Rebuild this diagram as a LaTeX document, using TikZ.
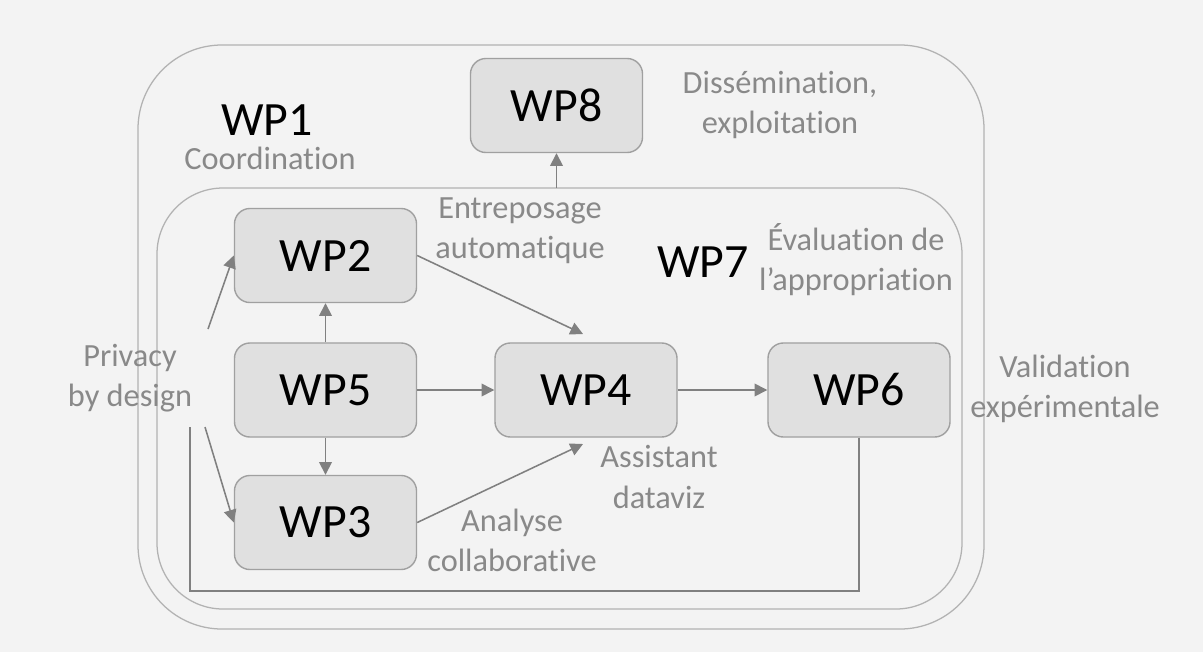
\documentclass[tikz,border=0pt]{standalone}
\usepackage{fontspec}
\setmainfont{Carlito}[Ligatures=NoCommon]
\usetikzlibrary{arrows.meta}
\definecolor{bgcol}{RGB}{243,243,243}
\definecolor{boxfill}{RGB}{224,224,224}
\definecolor{boxline}{RGB}{160,160,160}
\definecolor{frameline}{RGB}{178,178,178}
\definecolor{arrowcol}{RGB}{128,128,128}
\definecolor{labelcol}{RGB}{137,137,137}
\begin{document}
\begin{tikzpicture}[x=0.025cm, y=-0.025cm]

      \tikzset{wp/.style={draw=boxline, fill=boxfill, line width=1pt, rounded corners=11pt, minimum width=4.55cm, minimum height=2.35cm, font=\fontsize{34}{40}\selectfont},
               wptitle/.style={font=\fontsize{34}{40}\selectfont},
               caption/.style={text=labelcol, align=center, font=\fontsize{23}{28.5}\selectfont},
               frame/.style={draw=frameline, line width=0.9pt},
               flow/.style={draw=arrowcol, line width=1.1pt, -{Triangle[length=9pt, width=9pt]}}}
%% Background
      	\fill[bgcol] (0,0) rectangle (1203,652);
      	\useasboundingbox (0,0) rectangle (1203,652);
%% Frames
      	\draw[frame, rounded corners=2.1cm] (138,45) rectangle (984,629);
      	\draw[frame, rounded corners=1.65cm] (157,188) rectangle (962,609);
%% Work packages
      	\node[wp] (wp2) at (325.5,255.5) {WP2};
      	\node[wp] (wp5) at (325.5,390) {WP5};
      	\node[wp] (wp3) at (325.5,522.5) {WP3};
      	\node[wp] (wp4) at (586,390) {WP4};
      	\node[wp] (wp6) at (859,390) {WP6};
      	\node[wp, minimum width=4.3cm] (wp8) at (556.5,105.5) {WP8};
%% Titles and captions
      	\node[wptitle] (wp1) at (267,120) {WP1};
      	\node[wptitle] (wp7) at (703,262) {WP7};
      	\node[caption] (coord) at (270,158) {Coordination};
      	\node[caption] (dissem) at (780,105) {Dissémination,\\exploitation};
      	\node[caption] (entrep) at (520,231) {Entreposage\\automatique};
      	\node[caption] (evalap) at (856,260) {Évaluation de\\l’appropriation};
      	\node[caption] (privacy) at (130,378) {Privacy\\by design};
      	\node[caption] (assist) at (659,477) {Assistant\\dataviz};
      	\node[caption] (analyse) at (512,540) {Analyse\\collaborative};
      	\node[caption] (valid) at (1065,389) {Validation\\expérimentale};
%% Free ends
      	\coordinate (wp7top) at (556.5,188);
      	\coordinate (wp4top) at (583,334);
      	\coordinate (wp4bot) at (583,444);
      	\coordinate (privup) at (208,329);
      	\coordinate (privdown) at (205,427);
      	\coordinate (loopcorner) at (190,591);
      	\coordinate (loopend) at (190,427);
%Edges
		\path (wp7top) edge[flow] (wp8.south);
		\path (wp5.north) edge[flow] (wp2.south);
		\path (wp5.south) edge[flow] (wp3.north);
		\path (wp5.east) edge[flow] (wp4.west);
		\path (wp4.east) edge[flow] (wp6.west);
		\path (wp2.east) edge[flow] (wp4top);
		\path (wp3.east) edge[flow] (wp4bot);
		\path (privup) edge[flow] (wp2.west);
		\path (privdown) edge[flow] (wp3.west);
		\draw [draw=arrowcol, line width=1.1pt] (wp6.south) |- (loopcorner) -- (loopend);

	\end{tikzpicture}
\end{document}
